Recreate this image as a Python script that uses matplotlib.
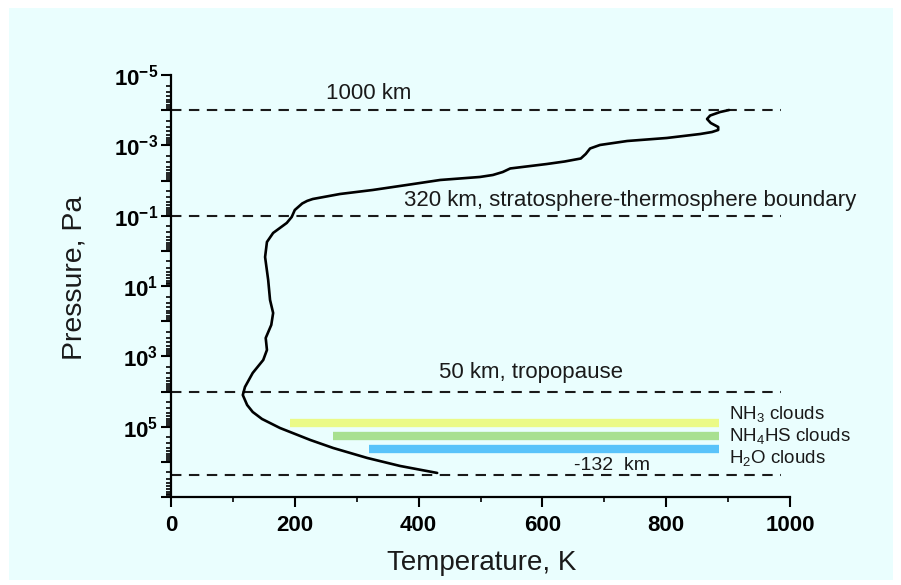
import matplotlib
matplotlib.use('Agg')
import matplotlib.pyplot as plt
import matplotlib.ticker as ticker
from matplotlib.patches import Rectangle
import numpy as np

plt.rcParams['font.family'] = ['Liberation Sans', 'DejaVu Sans']
plt.rcParams['mathtext.fontset'] = 'custom'
plt.rcParams['mathtext.rm'] = 'Liberation Sans'
plt.rcParams['mathtext.bf'] = 'Liberation Sans:bold'

# temperature profile (K) vs pressure (Pa)
temperature = [901.5, 887, 871, 866, 872, 884, 884, 874, 855, 801, 737, 693, 677,
               670, 662, 636, 607, 548, 536, 520, 499, 435, 381, 326, 273, 229,
               220, 212, 200, 195, 187, 165, 155, 152, 157, 160, 165, 162, 153, 155,
               149, 132, 119.5, 116, 123, 132, 147, 176, 225, 262, 317, 370, 430]
pressure = [9.9e-5, 1.13e-4, 1.42e-4, 1.78e-4, 2.32e-4, 3.01e-4, 3.66e-4, 4.18e-4,
            4.76e-4, 6.18e-4, 7.53e-4, 9.77e-4, 1.23e-3, 1.76e-3, 2.37e-3, 2.88e-3,
            3.40e-3, 4.55e-3, 5.73e-3, 6.97e-3, 7.94e-3, 9.66e-3, 1.34e-2, 1.86e-2,
            2.42e-2, 3.36e-2, 3.8e-2, 4.5e-2, 6.9e-2, 0.109, 0.161, 0.31, 0.56, 1.5,
            6.75, 24.9, 58.5, 128, 301, 659, 1270, 2970, 7430, 1.26e4, 2.42e4, 3.82e4,
            6.04e4, 1.09e5, 2.39e5, 4.04e5, 7.76e5, 1.31e6, 2.07e6]

# reference levels
level_p = [1e-4, 1e-1, 1e4, 2.3e6]
level_text = ['1000 km', '320 km, stratosphere-thermosphere boundary',
              '50 km, tropopause', '-132  km']
level_text_T = [320, 741, 582, 712]
level_text_p = [3.25e-5, 3.6e-2, 2.97e3, 1.3e6]
level_text_size = [16, 16, 16, 14]

# cloud layers
cloud_names = ['NH$_3$ clouds', 'NH$_4$HS clouds', 'H$_2$O clouds']
cloud_tmin = [192, 262, 320]
cloud_tmax = [885, 885, 885]
cloud_p = [7.7e4, 1.84e5, 4.23e5]
cloud_label_p = [4.6e4, 2.0e5, 8.3e5]
cloud_colors = ['#ebfa87', '#a8e090', '#5ac3fa']

bg = '#eafefe'

fig = plt.figure(figsize=(9.01, 5.85), dpi=100, facecolor='white')
fig.patches.append(Rectangle((9 / 901, 5 / 585), 884 / 901, 572 / 585,
                             transform=fig.transFigure, facecolor=bg,
                             edgecolor='none', zorder=-10))
ax = fig.add_axes([171 / 901, 1 - 497 / 585, 619 / 901, 422 / 585])
ax.set_facecolor('none')

for p in level_p:
    ax.hlines(p, 0, 985, colors='#1a1a1a', linewidth=1.5, linestyles=(0, (5, 3.6)))

for name, t0, t1, p, c in zip(cloud_names, cloud_tmin, cloud_tmax, cloud_p, cloud_colors):
    ax.hlines(p, t0, t1, colors=c, linewidth=6, capstyle='butt')

ax.plot(temperature, pressure, color='black', linewidth=1.9,
        solid_capstyle='round', solid_joinstyle='round')

for txt, t, p, s in zip(level_text, level_text_T, level_text_p, level_text_size):
    ax.text(t, p, txt, fontsize=s, ha='center', va='center', color='#1a1a1a')

for name, p in zip(cloud_names, cloud_label_p):
    ax.text(901, p, name, fontsize=13.5, ha='left', va='center', color='#1a1a1a')

ax.set_yscale('log')
ax.set_ylim(1e7, 1e-5)
ax.set_xlim(0, 1000)

ax.yaxis.set_major_locator(ticker.FixedLocator([10.0 ** k for k in range(-5, 8)]))
ax.yaxis.set_minor_locator(ticker.LogLocator(base=10, subs=np.arange(2, 10), numticks=30))
ax.yaxis.set_minor_formatter(ticker.NullFormatter())


def ylab(v, pos):
    k = int(round(np.log10(v)))
    if k % 2 != 0 and k <= 5:
        return r'$\mathbf{10^{%d}}$' % k
    return ''


ax.yaxis.set_major_formatter(ticker.FuncFormatter(ylab))
ax.xaxis.set_major_locator(ticker.MultipleLocator(200))
ax.xaxis.set_minor_locator(ticker.MultipleLocator(100))

for lab in ax.get_xticklabels():
    lab.set_fontweight('bold')
ax.tick_params(axis='both', which='major', length=7, width=1.5, labelsize=16, pad=3)
ax.tick_params(axis='both', which='minor', length=3.5, width=1.2)
ax.tick_params(axis='x', which='major', pad=6)
ax.tick_params(axis='y', which='major', pad=2)

for s in ['top', 'right']:
    ax.spines[s].set_visible(False)
for s in ['left', 'bottom']:
    ax.spines[s].set_linewidth(1.6)

ax.set_xlabel('Temperature, K', fontsize=20, color='#1a1a1a')
ax.set_ylabel('Pressure, Pa', fontsize=20.5, color='#1a1a1a')
ax.xaxis.set_label_coords(0.502, -0.125)
ax.yaxis.set_label_coords(-0.135, 0.52)

fig.savefig('out.png', dpi=100, facecolor='white')
